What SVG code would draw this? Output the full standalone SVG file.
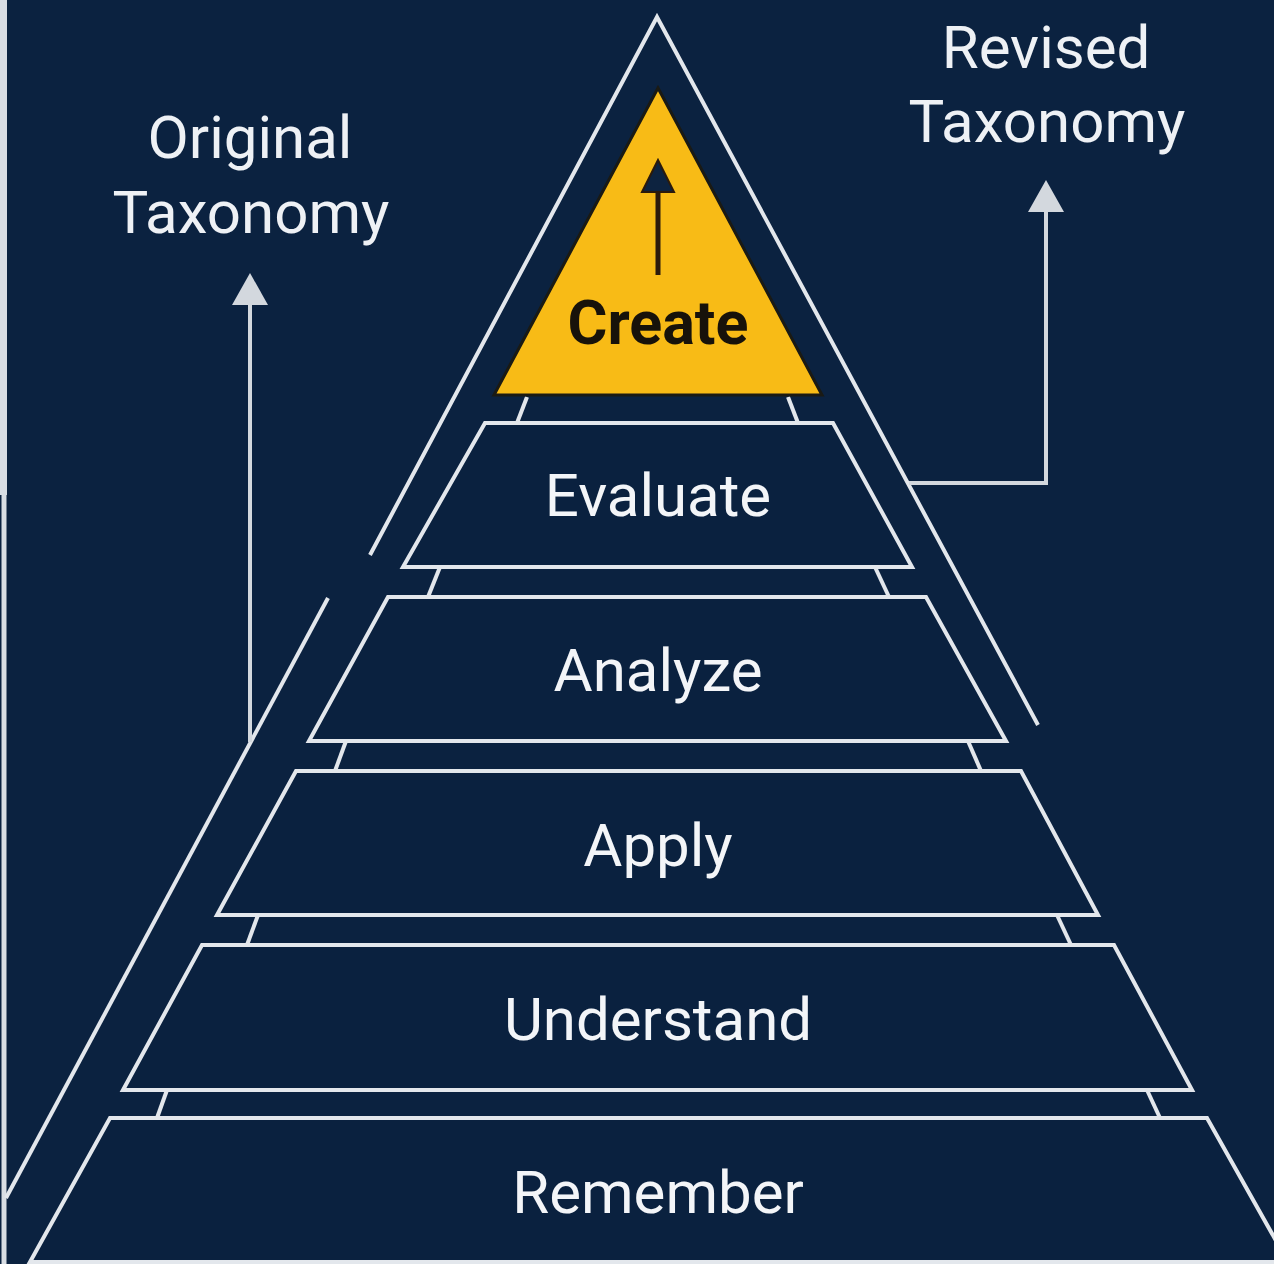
<svg xmlns="http://www.w3.org/2000/svg" width="1274" height="1264" viewBox="0 0 1274 1264">
<defs>
<style>
.bg{fill:#0b2240}
.tier{fill:#0a213f;stroke:#e3e7ec;stroke-width:4;stroke-linejoin:miter}
.ln{fill:none;stroke:#e3e7ec;stroke-width:4;stroke-linecap:butt}
.arr{fill:none;stroke:#d3d8de;stroke-width:4}
.lbl{font-family:Roboto,"Liberation Sans",sans-serif;font-size:60px;fill:#f3f5f8;text-anchor:middle}
.side{font-family:Roboto,"Liberation Sans",sans-serif;font-size:60px;fill:#eef1f5;text-anchor:middle}
</style>
</defs>
<rect class="bg" x="0" y="0" width="1274" height="1264"/>
<rect x="0" y="0" width="7" height="495" fill="#d9dee4"/>
<line x1="4" y1="495" x2="4" y2="1264" stroke="#d9dee4" stroke-width="5"/>

<g id="connectors">
  <polyline class="ln" points="370,555 657,17 1038,725"/>
  <line class="ln" x1="328" y1="598" x2="6" y2="1198"/>
  <line class="arr" x1="250" y1="742" x2="250" y2="300"/>
  <polygon points="250,273 232,305 268,305" fill="#d3d8de"/>
  <polyline class="arr" points="909,483 1046,483 1046,205"/>
  <polygon points="1046,180 1028,212 1064,212" fill="#d3d8de"/>
  <line class="ln" x1="527" y1="397" x2="517" y2="423"/>
  <line class="ln" x1="788" y1="397" x2="798" y2="423"/>
  <line class="ln" x1="440" y1="567" x2="428" y2="597"/>
  <line class="ln" x1="875" y1="567" x2="889" y2="597"/>
  <line class="ln" x1="346" y1="741" x2="335" y2="771"/>
  <line class="ln" x1="968" y1="741" x2="981" y2="771"/>
  <line class="ln" x1="258" y1="915" x2="247" y2="945"/>
  <line class="ln" x1="1057" y1="915" x2="1071" y2="945"/>
  <line class="ln" x1="167" y1="1090" x2="157" y2="1118"/>
  <line class="ln" x1="1147" y1="1090" x2="1160" y2="1118"/>
</g>

<g id="create">
  <polygon points="658,88 494,395 822,395" fill="#f8bb16" stroke="#1a1a14" stroke-width="3" stroke-linejoin="miter"/>
  <line x1="658" y1="275" x2="658" y2="188" stroke="#2b1a0c" stroke-width="5"/>
  <polygon points="658,160 642,192 674,192" fill="#0d2340" stroke="#2b1a0c" stroke-width="2"/>
  <text x="658" y="344" font-family="Roboto,'Liberation Sans',sans-serif" font-size="61" font-weight="bold" fill="#17120a" text-anchor="middle">Create</text>
</g>

<g id="evaluate">
  <polygon class="tier" points="485,423 833,423 912,567 403,567"/>
  <text class="lbl" x="658" y="516">Evaluate</text>
</g>
<g id="analyze">
  <polygon class="tier" points="388,597 926,597 1006,741 309,741"/>
  <text class="lbl" x="658" y="691">Analyze</text>
</g>
<g id="apply">
  <polygon class="tier" points="296,771 1021,771 1098,915 217,915"/>
  <text class="lbl" x="658" y="866">Apply</text>
</g>
<g id="understand">
  <polygon class="tier" points="202,945 1114,945 1192,1090 123,1090"/>
  <text class="lbl" x="658" y="1040">Understand</text>
</g>
<g id="remember">
  <polygon class="tier" points="110,1118 1207,1118 1288,1262 30,1262"/>
  <text class="lbl" x="658" y="1213">Remember</text>
</g>

<g id="label-original">
  <text class="side" x="250" y="158">Original</text>
  <text class="side" x="251" y="233">Taxonomy</text>
</g>
<g id="label-revised">
  <text class="side" x="1046" y="68">Revised</text>
  <text class="side" x="1047" y="142">Taxonomy</text>
</g>
</svg>
